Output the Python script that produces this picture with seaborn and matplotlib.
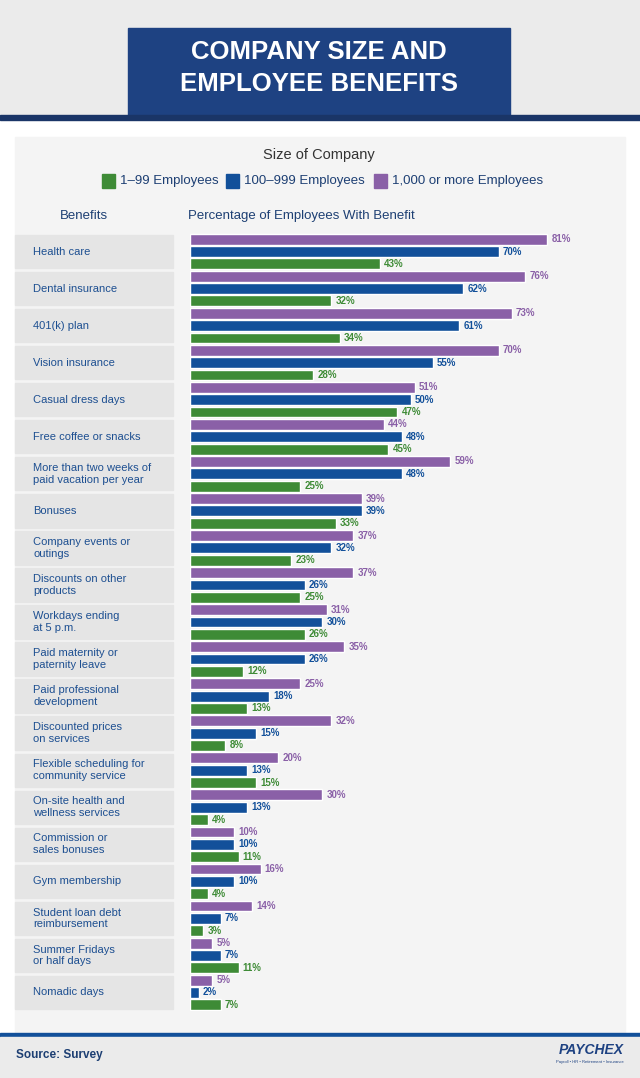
import numpy as np
import pandas as pd
import matplotlib.pyplot as plt
import matplotlib.patches as mpatches
import seaborn as sns

sns.set_style('white')
plt.rcParams['font.family'] = ['Liberation Sans', 'DejaVu Sans']

benefits = ['Health care', 'Dental insurance', '401(k) plan', 'Vision insurance',
            'Casual dress days', 'Free coffee or snacks',
            'More than two weeks of\npaid vacation per year', 'Bonuses',
            'Company events or\noutings', 'Discounts on other\nproducts',
            'Workdays ending\nat 5 p.m.', 'Paid maternity or\npaternity leave',
            'Paid professional\ndevelopment', 'Discounted prices\non services',
            'Flexible scheduling for\ncommunity service',
            'On-site health and\nwellness services', 'Commission or\nsales bonuses',
            'Gym membership', 'Student loan debt\nreimbursement',
            'Summer Fridays\nor half days', 'Nomadic days']
large = [81, 76, 73, 70, 51, 44, 59, 39, 37, 37, 31, 35, 25, 32, 20, 30, 10, 16, 14, 5, 5]
mid = [70, 62, 61, 55, 50, 48, 48, 39, 32, 26, 30, 26, 18, 15, 13, 13, 10, 10, 7, 7, 2]
small = [43, 32, 34, 28, 47, 45, 25, 33, 23, 25, 26, 12, 13, 8, 15, 4, 11, 4, 3, 11, 7]
groups = ['1,000 or more Employees', '100–999 Employees', '1–99 Employees']
colors = ['#8a60a7', '#12509a', '#3e8b36']

df = pd.DataFrame({'benefit': benefits * 3,
                   'group': np.repeat(groups, len(benefits)),
                   'pct': large + mid + small})

W, H = 640, 1078
fig = plt.figure(figsize=(6.4, 10.78), dpi=100)
fig.patch.set_facecolor('white')

def fr(x, y, w, h, c, z=-1):
    fig.patches.append(mpatches.Rectangle((x / W, 1 - (y + h) / H), w / W, h / H,
                                          transform=fig.transFigure, color=c, zorder=z))

# header / panel / footer
fr(0, 0, 640, 117, '#ebebeb')
fr(128, 28, 382, 88, '#1e4282')
fr(0, 115, 640, 5, '#1a3567')
fr(15, 137, 610, 896, '#f4f4f4')
fr(0, 1033, 640, 4, '#12509a')
fr(0, 1037, 640, 41, '#ebebeb')
fig.text(319 / W, 1 - 68 / H, 'COMPANY SIZE AND\nEMPLOYEE BENEFITS', ha='center', va='center',
         color='white', fontsize=18.5, fontweight='bold', linespacing=1.45)
fig.text(319 / W, 1 - 155 / H, 'Size of Company', ha='center', va='center', fontsize=10.5, color='#333333')
for x, lab, c in [(102, '1–99 Employees', colors[2]), (226, '100–999 Employees', colors[1]),
                  (374, '1,000 or more Employees', colors[0])]:
    fr(x, 174, 13, 14, c, 2)
    fig.text((x + 18) / W, 1 - 181 / H, lab, va='center', fontsize=9.5, color='#1d3f73')
fig.text(60 / W, 1 - 216 / H, 'Benefits', va='center', fontsize=9.5, color='#1d3f73')
fig.text(188 / W, 1 - 216 / H, 'Percentage of Employees With Benefit', va='center', fontsize=9.5, color='#1d3f73')
fig.text(16 / W, 1 - 1055 / H, 'Source: Survey', va='center', fontsize=8.5, fontweight='bold', color='#1d3f73')
fig.text(624 / W, 1 - 1050 / H, 'PAYCHEX', ha='right', va='center', fontsize=10, fontweight='bold',
         fontstyle='italic', color='#1e4282')
fig.text(624 / W, 1 - 1062 / H, 'Payroll • HR • Retirement • Insurance', ha='right', va='center',
         fontsize=3, color='#1e4282')

top, bot = 233, 1011
ax = fig.add_axes([190 / W, 1 - bot / H, 441 / W, (bot - top) / H])
ax.set_zorder(5)
ax.set_facecolor('none')
sns.barplot(data=df, y='benefit', x='pct', hue='group', hue_order=groups, palette=colors,
            order=benefits, orient='h', width=1.0, gap=0.12, saturation=1, legend=False, ax=ax)
ax.set_xlim(0, 100)
ax.set_ylim(len(benefits) - 0.5, -0.5)
ax.set_xlabel('')
ax.set_ylabel('')
ax.set_xticks([])
ax.set_yticks([])
for s in ax.spines.values():
    s.set_visible(False)

for cont, c in zip(ax.containers, colors):
    ax.bar_label(cont, labels=[f'{int(v)}%' for v in cont.datavalues], padding=3,
                 fontsize=7, fontweight='bold', color=c)

tr = ax.get_yaxis_transform()
for i, b in enumerate(benefits):
    ax.add_patch(mpatches.Rectangle((-175 / 441, i - 0.45), 158 / 441, 0.9, transform=tr,
                                    color='#e5e5e5', clip_on=False, zorder=0))
    ax.text(-157 / 441, i, b, transform=tr, va='center', fontsize=8, color='#1d4f91',
            linespacing=1.2)

fig.savefig('out.png', dpi=100)
